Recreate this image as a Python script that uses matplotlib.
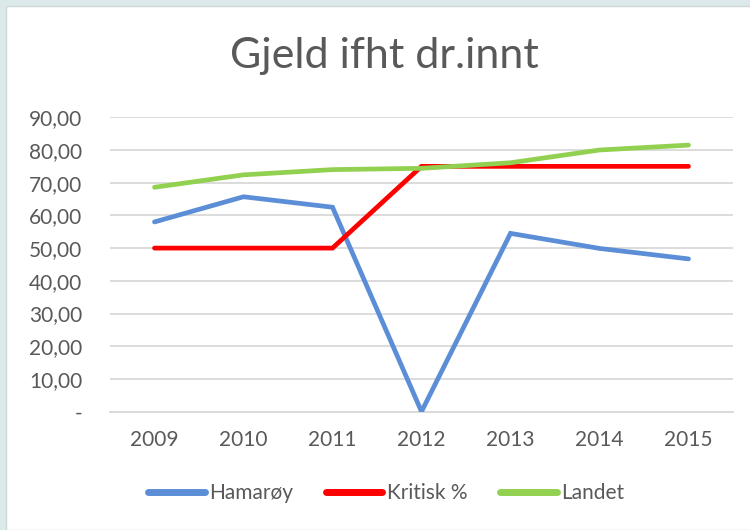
import matplotlib
matplotlib.use("Agg")
import matplotlib.pyplot as plt
from matplotlib.patches import Rectangle
from matplotlib.ticker import FuncFormatter

# Gjeld i prosent av driftsinntekter
years = ["2009", "2010", "2011", "2012", "2013", "2014", "2015"]
hamaroy = [58.0, 65.7, 62.5, 0.0, 54.5, 49.9, 46.7]
kritisk = [50.0, 50.0, 50.0, 75.0, 75.0, 75.0, 75.0]
landet = [68.6, 72.4, 74.0, 74.4, 76.1, 80.0, 81.5]

plt.rcParams["font.family"] = ["Lato", "DejaVu Sans"]
txt = "#595959"
grid = "#d9d9d9"

fig = plt.figure(figsize=(7.5, 5.3), dpi=100, facecolor="#dce9ea")
# hvitt diagramområde bak aksene
fig.patches.append(Rectangle((6 / 750, 0), 1, 1 - 6 / 530, transform=fig.transFigure,
                             facecolor="white", edgecolor="#cfd6d6", linewidth=1, zorder=-10))

ax = fig.add_axes([110 / 750, (530 - 411.6) / 530, 623 / 750, 294.3 / 530])
ax.set_facecolor("none")

x = range(len(years))
style = dict(lw=3.4, solid_capstyle="round", solid_joinstyle="miter", zorder=3)
ax.plot(x, hamaroy, color="#5b8ed6", label="Hamarøy", **style)
ax.plot(x, kritisk, color="#ff0000", label="Kritisk %", **style)
ax.plot(x, landet, color="#92d050", label="Landet", **style)

ax.set_xlim(-0.5, len(years) - 0.5)
ax.set_ylim(0, 90)
ax.set_yticks(range(0, 91, 10))
ax.yaxis.set_major_formatter(FuncFormatter(lambda v, p: "-" if v == 0 else f"{v:.2f}".replace(".", ",")))
ax.set_xticks(list(x))
ax.set_xticklabels(years)
ax.grid(axis="y", color=grid, lw=1.3, zorder=1)
for s in ["top", "right", "left"]:
    ax.spines[s].set_visible(False)
ax.spines["bottom"].set_color(grid)
ax.spines["bottom"].set_linewidth(1.3)
ax.tick_params(axis="y", length=0, pad=20, labelsize=15, labelcolor=txt)
ax.tick_params(axis="x", length=0, pad=13, labelsize=15, labelcolor=txt)

fig.text(0.512, 0.895, "Gjeld ifht dr.innt", ha="center", va="center", fontsize=31, color=txt)

leg = fig.legend(loc="center", bbox_to_anchor=(0.515, 0.07), ncol=3, frameon=False, fontsize=15,
                 handlelength=2.7, handletextpad=0.2, columnspacing=1.6, labelcolor=txt)
for h in leg.get_lines():
    h.set_linewidth(5)

fig.savefig("out.png", dpi=100, facecolor=fig.get_facecolor())
